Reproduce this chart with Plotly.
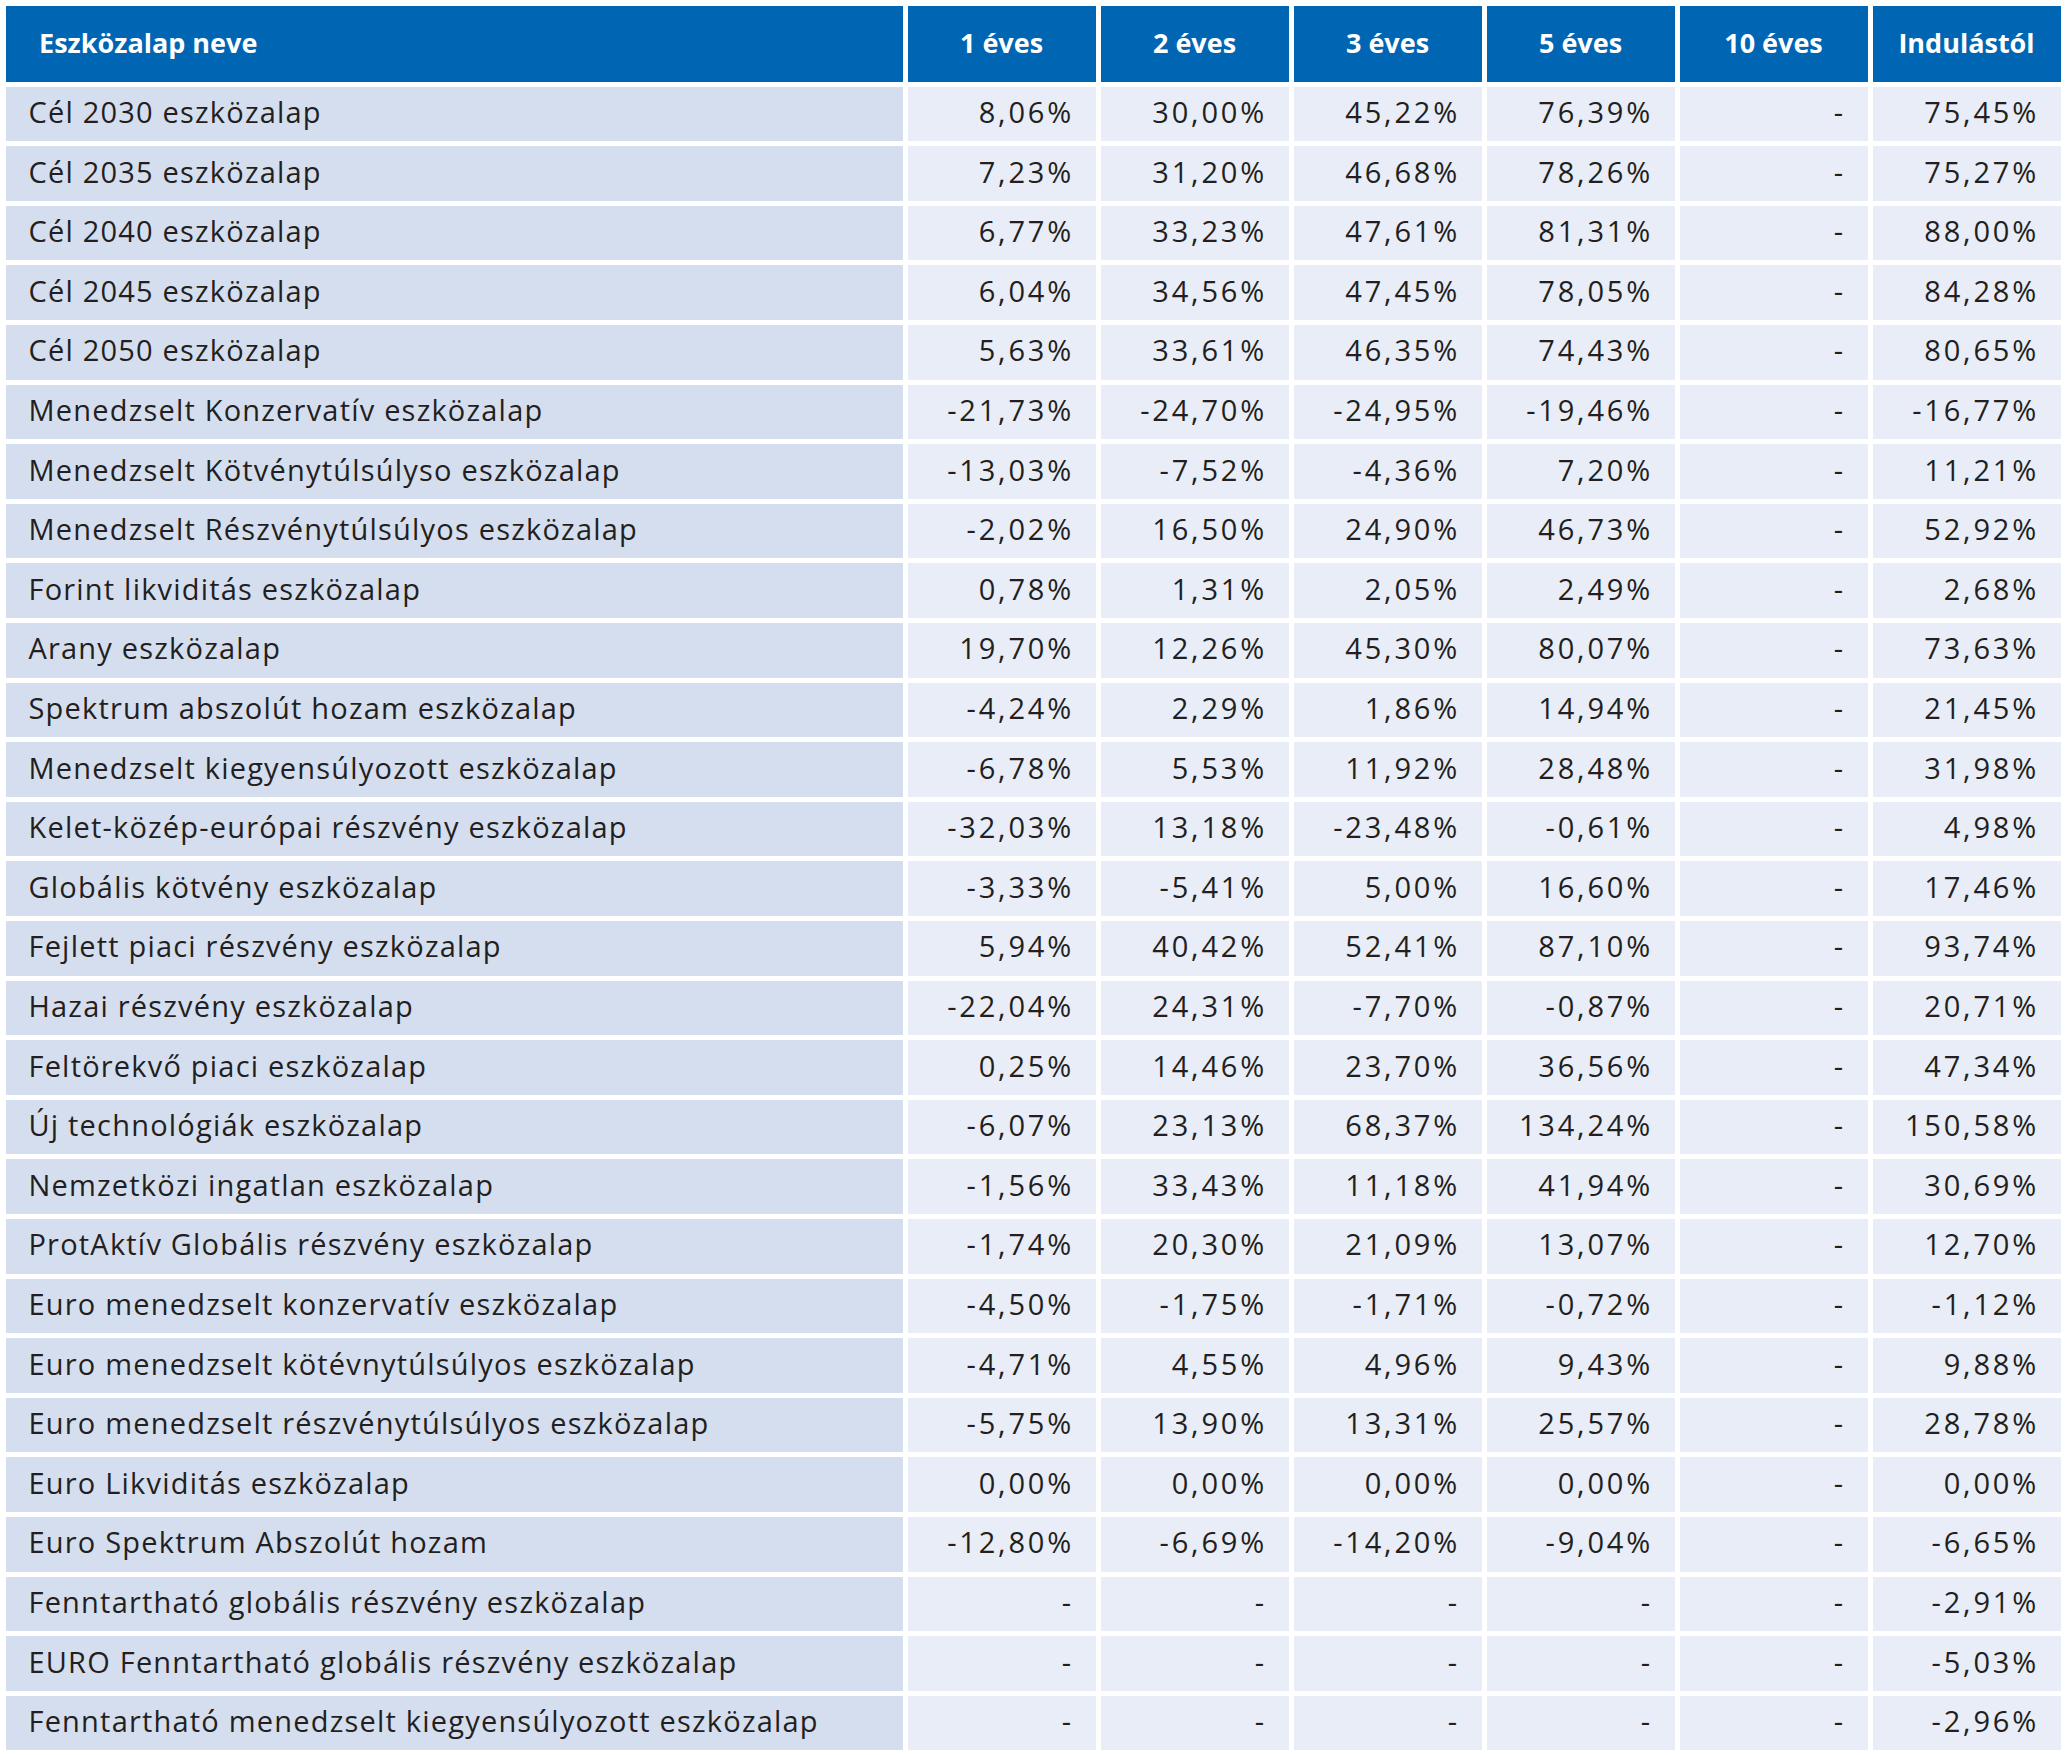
import plotly.graph_objects as go

headers = ["Eszközalap neve", "1 éves", "2 éves", "3 éves", "5 éves", "10 éves", "Indulástól"]

fund_names = [
    "Cél 2030 eszközalap",
    "Cél 2035 eszközalap",
    "Cél 2040 eszközalap",
    "Cél 2045 eszközalap",
    "Cél 2050 eszközalap",
    "Menedzselt Konzervatív eszközalap",
    "Menedzselt Kötvénytúlsúlyso eszközalap",
    "Menedzselt Részvénytúlsúlyos eszközalap",
    "Forint likviditás eszközalap",
    "Arany eszközalap",
    "Spektrum abszolút hozam eszközalap",
    "Menedzselt kiegyensúlyozott eszközalap",
    "Kelet-közép-európai részvény eszközalap",
    "Globális kötvény eszközalap",
    "Fejlett piaci részvény eszközalap",
    "Hazai részvény eszközalap",
    "Feltörekvő piaci eszközalap",
    "Új technológiák eszközalap",
    "Nemzetközi ingatlan eszközalap",
    "ProtAktív Globális részvény eszközalap",
    "Euro menedzselt konzervatív eszközalap",
    "Euro menedzselt kötévnytúlsúlyos eszközalap",
    "Euro menedzselt részvénytúlsúlyos eszközalap",
    "Euro Likviditás eszközalap",
    "Euro Spektrum Abszolút hozam",
    "Fenntartható globális részvény eszközalap",
    "EURO Fenntartható globális részvény eszközalap",
    "Fenntartható menedzselt kiegyensúlyozott eszközalap",
]

ret_1y = [8.06, 7.23, 6.77, 6.04, 5.63, -21.73, -13.03, -2.02, 0.78, 19.70, -4.24, -6.78, -32.03, -3.33,
          5.94, -22.04, 0.25, -6.07, -1.56, -1.74, -4.50, -4.71, -5.75, 0.00, -12.80, None, None, None]
ret_2y = [30.00, 31.20, 33.23, 34.56, 33.61, -24.70, -7.52, 16.50, 1.31, 12.26, 2.29, 5.53, 13.18, -5.41,
          40.42, 24.31, 14.46, 23.13, 33.43, 20.30, -1.75, 4.55, 13.90, 0.00, -6.69, None, None, None]
ret_3y = [45.22, 46.68, 47.61, 47.45, 46.35, -24.95, -4.36, 24.90, 2.05, 45.30, 1.86, 11.92, -23.48, 5.00,
          52.41, -7.70, 23.70, 68.37, 11.18, 21.09, -1.71, 4.96, 13.31, 0.00, -14.20, None, None, None]
ret_5y = [76.39, 78.26, 81.31, 78.05, 74.43, -19.46, 7.20, 46.73, 2.49, 80.07, 14.94, 28.48, -0.61, 16.60,
          87.10, -0.87, 36.56, 134.24, 41.94, 13.07, -0.72, 9.43, 25.57, 0.00, -9.04, None, None, None]
ret_10y = [None] * 28
ret_since = [75.45, 75.27, 88.00, 84.28, 80.65, -16.77, 11.21, 52.92, 2.68, 73.63, 21.45, 31.98, 4.98, 17.46,
             93.74, 20.71, 47.34, 150.58, 30.69, 12.70, -1.12, 9.88, 28.78, 0.00, -6.65, -2.91, -5.03, -2.96]

NB = "\u00a0"
HAIR = "\u200a"
BODY_SIZE = 29
HEAD_SIZE = 27
NAME_SPACING = 1.2
NUM_SPACING = 2.8


def body_cell(s, spacing):
    return (f'<br><span style="font-size:{BODY_SIZE}px;letter-spacing:{spacing}px">'
            f'{s}</span>')


def head_cell(s):
    # first line holds a non-breaking space in the small base font: it shifts
    # the bold label down to the vertical centre of the tall header cell
    return f'{NB}<br><span style="font-size:{HEAD_SIZE}px"><b>{s}</b></span>'


def fmt(v):
    s = "-" if v is None else f"{v:.2f}".replace(".", ",") + "%"
    return body_cell(s + NB + HAIR, NUM_SPACING)


value_cols = [ret_1y, ret_2y, ret_3y, ret_5y, ret_10y, ret_since]
cell_values = ([[body_cell(NB * 2 + n, NAME_SPACING) for n in fund_names]]
               + [[fmt(v) for v in col] for col in value_cols])
header_values = [head_cell(NB * 4 + headers[0])] + [head_cell(h) for h in headers[1:]]

FONT = "Open Sans"
first_fill = "#d5deef"
other_fill = "#e8edf7"

fig = go.Figure(go.Table(
    columnwidth=[902, 193, 193, 193, 193, 193, 193],
    header=dict(
        values=header_values,
        fill_color="#0066b3",
        line=dict(color="white", width=5),
        align=["left"] + ["center"] * 6,
        font=dict(family=FONT, size=17.8, color="white"),
        height=81,
    ),
    cells=dict(
        values=cell_values,
        fill_color=[[first_fill] * 28] + [[other_fill] * 28] * 6,
        line=dict(color="white", width=5),
        align=["left"] + ["right"] * 6,
        font=dict(family=FONT, size=16, color="#231f20"),
        height=59.6,
    ),
    domain=dict(x=[0, 1], y=[0, 1]),
))

fig.update_layout(
    width=2066,
    height=1755,
    margin=dict(l=3, r=3, t=3, b=0),
    paper_bgcolor="white",
    plot_bgcolor="white",
)

fig.write_html(
    "out.html",
    config={"displayModeBar": False},
    post_script="document.body.style.margin='0';document.body.style.overflow='hidden';",
)
